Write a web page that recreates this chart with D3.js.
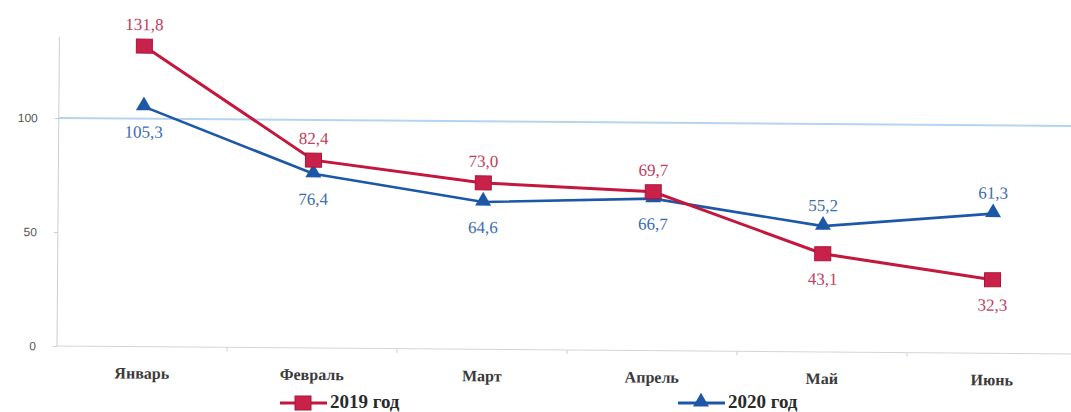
<!DOCTYPE html>
<html>
<head>
<meta charset="utf-8">
<script src="https://cdn.jsdelivr.net/npm/d3@7"></script>
<style>
  html, body { margin: 0; padding: 0; background: #fff; }
  svg { display: block; }
</style>
</head>
<body>
<svg id="chart" width="1071" height="412"></svg>
<script>
// Monthly values, 2019 vs 2020
const months = ["Январь", "Февраль", "Март", "Апрель", "Май", "Июнь"];
const values2019 = [131.8, 82.4, 73.0, 69.7, 43.1, 32.3];
const values2020 = [105.3, 76.4, 64.6, 66.7, 55.2, 61.3];
const yTicks = [0, 50, 100];
const seriesNames = ["2019 год", "2020 год"];
const baseline = 100;

const red = "#c4173d";
const blue = "#1d58a8";
const redText = "#c0405e";
const blueText = "#3d6cb0";

const svg = d3.select("#chart");
const margin = { left: 57, right: 0, top: 37, bottom: 66 };
const W = 1071, H = 412;
const plotBottom = 346;

const g = svg.append("g")
  .attr("transform", `rotate(0.45, ${margin.left}, ${plotBottom})`);

const x = d3.scaleBand()
  .domain(months)
  .range([margin.left, margin.left + 170 * 6])
  .paddingInner(0).paddingOuter(0);

const y = d3.scaleLinear()
  .domain([0, 100])
  .range([plotBottom, 118]);

const cx = d => x(d) + x.bandwidth() / 2;

// y axis
const yAxis = g.append("g")
  .attr("transform", `translate(${margin.left},0)`)
  .call(d3.axisLeft(y).tickValues(yTicks).tickSize(4).tickPadding(17).tickFormat(d3.format("d")));
yAxis.select(".domain").attr("d", `M0,${plotBottom}V${margin.top}`).attr("stroke", "#c9cdd6");
yAxis.selectAll(".tick line").attr("stroke", "#c9cdd6");
yAxis.selectAll(".tick text")
  .attr("fill", "#555")
  .style("font-family", "'Liberation Sans', Arial, sans-serif")
  .style("font-size", "12px");

// x axis with ticks at category boundaries
const xAxis = g.append("g")
  .attr("transform", `translate(0,${plotBottom})`);
xAxis.append("line")
  .attr("x1", margin.left).attr("x2", W + 10)
  .attr("stroke", "#d2d5dc");
xAxis.selectAll("line.tk")
  .data(months.slice(1))
  .join("line")
  .attr("class", "tk")
  .attr("x1", d => x(d)).attr("x2", d => x(d))
  .attr("y1", 0).attr("y2", 4)
  .attr("stroke", "#c9cdd6");
xAxis.selectAll("text")
  .data(months)
  .join("text")
  .attr("x", d => cx(d))
  .attr("y", 32)
  .attr("text-anchor", "middle")
  .attr("fill", "#3a3a3a")
  .style("font-family", "'Liberation Serif', 'Times New Roman', serif")
  .style("font-weight", "bold")
  .style("font-size", "16px")
  .text(d => d);

// reference line at 100
g.append("line")
  .attr("x1", margin.left).attr("x2", W + 10)
  .attr("y1", y(baseline)).attr("y2", y(baseline))
  .attr("stroke", "#b5d4f0")
  .attr("stroke-width", 2);

const line = d3.line().x(d => cx(d.m)).y(d => y(d.v));
const d2019 = months.map((m, i) => ({ m, v: values2019[i] }));
const d2020 = months.map((m, i) => ({ m, v: values2020[i] }));

g.append("path").datum(d2020).attr("d", line)
  .attr("fill", "none").attr("stroke", blue).attr("stroke-width", 2.6);
g.append("path").datum(d2019).attr("d", line)
  .attr("fill", "none").attr("stroke", red).attr("stroke-width", 3);

const tri = d3.symbol().type(d3.symbolTriangle).size(110);
g.selectAll("path.tri").data(d2020).join("path")
  .attr("class", "tri")
  .attr("d", tri)
  .attr("transform", d => `translate(${cx(d.m)},${y(d.v) - 1})`)
  .attr("fill", blue);

g.selectAll("rect.sq").data(d2019).join("rect")
  .attr("class", "sq")
  .attr("x", d => cx(d.m) - 8).attr("y", d => y(d.v) - 7)
  .attr("width", 16).attr("height", 14)
  .attr("fill", "#c8224a").attr("stroke", "#b0123a").attr("stroke-width", 1);

// value labels
const fmt = v => v.toFixed(1).replace(".", ",");
const above2019 = [true, true, true, true, false, false];
const above2020 = [false, false, false, false, true, true];
const labelFont = "'Liberation Serif', 'Times New Roman', serif";

g.selectAll("text.l19").data(d2019).join("text")
  .attr("class", "l19")
  .attr("x", d => cx(d.m))
  .attr("y", (d, i) => y(d.v) + (above2019[i] ? -16 : 31))
  .attr("text-anchor", "middle")
  .attr("fill", redText)
  .style("font-family", labelFont)
  .style("font-size", "17px")
  .text(d => fmt(d.v));

g.selectAll("text.l20").data(d2020).join("text")
  .attr("class", "l20")
  .attr("x", d => cx(d.m))
  .attr("y", (d, i) => y(d.v) + (above2020[i] ? -15 : 31))
  .attr("text-anchor", "middle")
  .attr("fill", blueText)
  .style("font-family", labelFont)
  .style("font-size", "17px")
  .text(d => fmt(d.v));

// legend
const legend = svg.append("g");
const items = [
  { name: seriesNames[0], color: red, x0: 280, kind: "sq" },
  { name: seriesNames[1], color: blue, x0: 678, kind: "tri" }
];
const ly = 403;
items.forEach(it => {
  legend.append("line")
    .attr("x1", it.x0).attr("x2", it.x0 + 47)
    .attr("y1", ly).attr("y2", ly)
    .attr("stroke", it.color).attr("stroke-width", 3);
  if (it.kind === "sq") {
    legend.append("rect")
      .attr("x", it.x0 + 15).attr("y", ly - 7)
      .attr("width", 16).attr("height", 14)
      .attr("fill", "#c8224a").attr("stroke", "#b0123a");
  } else {
    legend.append("path")
      .attr("d", tri)
      .attr("transform", `translate(${it.x0 + 23},${ly - 1})`)
      .attr("fill", it.color);
  }
  legend.append("text")
    .attr("x", it.x0 + 50).attr("y", ly + 5)
    .attr("fill", "#2a2a2a")
    .style("font-family", labelFont)
    .style("font-weight", "bold")
    .style("font-size", "19px")
    .text(it.name);
});
</script>
</body>
</html>
